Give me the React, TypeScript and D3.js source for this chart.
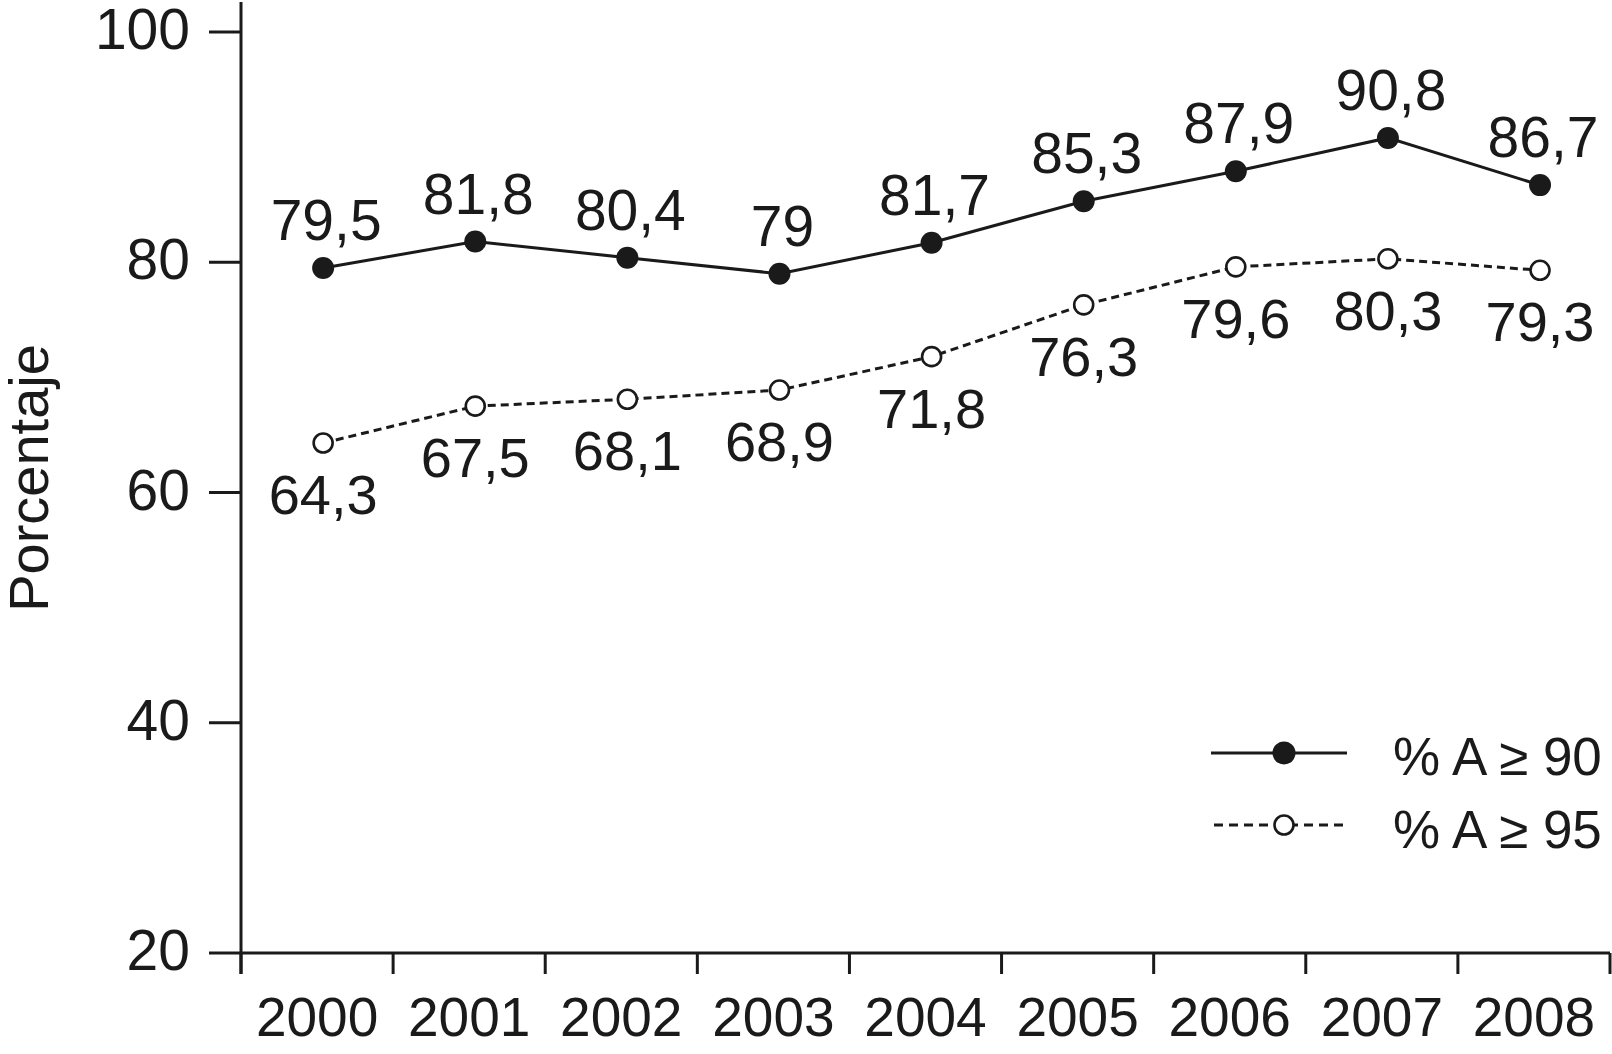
import React from "react";
import * as d3 from "d3";

const years = ["2000", "2001", "2002", "2003", "2004", "2005", "2006", "2007", "2008"];
const seriesA90 = [79.5, 81.8, 80.4, 79, 81.7, 85.3, 87.9, 90.8, 86.7];
const seriesA95 = [64.3, 67.5, 68.1, 68.9, 71.8, 76.3, 79.6, 80.3, 79.3];
const labelsA90 = ["79,5", "81,8", "80,4", "79", "81,7", "85,3", "87,9", "90,8", "86,7"];
const labelsA95 = ["64,3", "67,5", "68,1", "68,9", "71,8", "76,3", "79,6", "80,3", "79,3"];
const yTicks = [20, 40, 60, 80, 100];
const legendLabels = ["% A \u2265 90", "% A \u2265 95"];
const yTitle = "Porcentaje";

const W = 1612;
const H = 1054;
const FONT = "'Liberation Sans', Arial, Helvetica, sans-serif";
const INK = "#1a1a1a";

export default function App() {
  const x = d3.scaleBand<string>().domain(years).range([241, 1610]).paddingInner(0).paddingOuter(0);
  const y = d3.scaleLinear().domain([20, 100]).range([953, 32]);
  const px = (yr: string) => (x(yr) as number) + x.bandwidth() * 0.54;

  const line = d3
    .line<number>()
    .x((_, i) => px(years[i]))
    .y((v) => y(v));

  const edges = [...years.map((yr) => x(yr) as number), x.range()[1]];

  return (
    <svg
      width={W}
      height={H}
      style={{ position: "fixed", left: 0, top: 0, background: "#fff" }}
      fontFamily={FONT}
    >
      <rect x={0} y={0} width={W} height={H} fill="#fff" />
      {/* Y axis */}
      <line x1={241} x2={241} y1={2} y2={974} stroke={INK} strokeWidth={3} />
      {yTicks.map((t) => (
        <g key={t}>
          <line x1={209} x2={241} y1={y(t)} y2={y(t)} stroke={INK} strokeWidth={3} />
          <text x={190} y={y(t)} dy="0.3em" textAnchor="end" fontSize={57} fill={INK}>
            {t}
          </text>
        </g>
      ))}
      <text
        transform={`translate(48, 478) rotate(-90)`}
        textAnchor="middle"
        fontSize={56}
        fill={INK}
      >
        {yTitle}
      </text>
      {/* X axis */}
      <line x1={241} x2={x.range()[1]} y1={953} y2={953} stroke={INK} strokeWidth={3} />
      {edges.map((e, i) => (
        <line key={i} x1={e} x2={e} y1={953} y2={974} stroke={INK} strokeWidth={3} />
      ))}
      {years.map((yr) => (
        <text
          key={yr}
          x={(x(yr) as number) + x.bandwidth() / 2}
          y={1036}
          textAnchor="middle"
          fontSize={55}
          fill={INK}
        >
          {yr}
        </text>
      ))}
      {/* Series A95 dashed */}
      <path d={line(seriesA95) || ""} fill="none" stroke={INK} strokeWidth={3} strokeDasharray="8,5" />
      {seriesA95.map((v, i) => (
        <circle key={i} cx={px(years[i])} cy={y(v)} r={9.5} fill="#fff" stroke={INK} strokeWidth={2.6} />
      ))}
      {seriesA95.map((v, i) => (
        <text key={i} x={px(years[i])} y={y(v) + 71} textAnchor="middle" fontSize={56} fill={INK}>
          {labelsA95[i]}
        </text>
      ))}
      {/* Series A90 solid */}
      <path d={line(seriesA90) || ""} fill="none" stroke={INK} strokeWidth={3} />
      {seriesA90.map((v, i) => (
        <circle key={i} cx={px(years[i])} cy={y(v)} r={11} fill={INK} />
      ))}
      {seriesA90.map((v, i) => (
        <text key={i} x={px(years[i]) + 3} y={y(v) - 28} textAnchor="middle" fontSize={57} fill={INK}>
          {labelsA90[i]}
        </text>
      ))}
      {/* Legend */}
      <g>
        <line x1={1211} x2={1347} y1={753} y2={753} stroke={INK} strokeWidth={3} />
        <circle cx={1284} cy={753} r={11.5} fill={INK} />
        <text x={1393} y={775} fontSize={53} fill={INK}>
          {legendLabels[0]}
        </text>
        <line x1={1214} x2={1347} y1={825} y2={825} stroke={INK} strokeWidth={3} strokeDasharray="9,6" />
        <circle cx={1284} cy={825} r={9.5} fill="#fff" stroke={INK} strokeWidth={2.6} />
        <text x={1393} y={848} fontSize={53} fill={INK}>
          {legendLabels[1]}
        </text>
      </g>
    </svg>
  );
}
